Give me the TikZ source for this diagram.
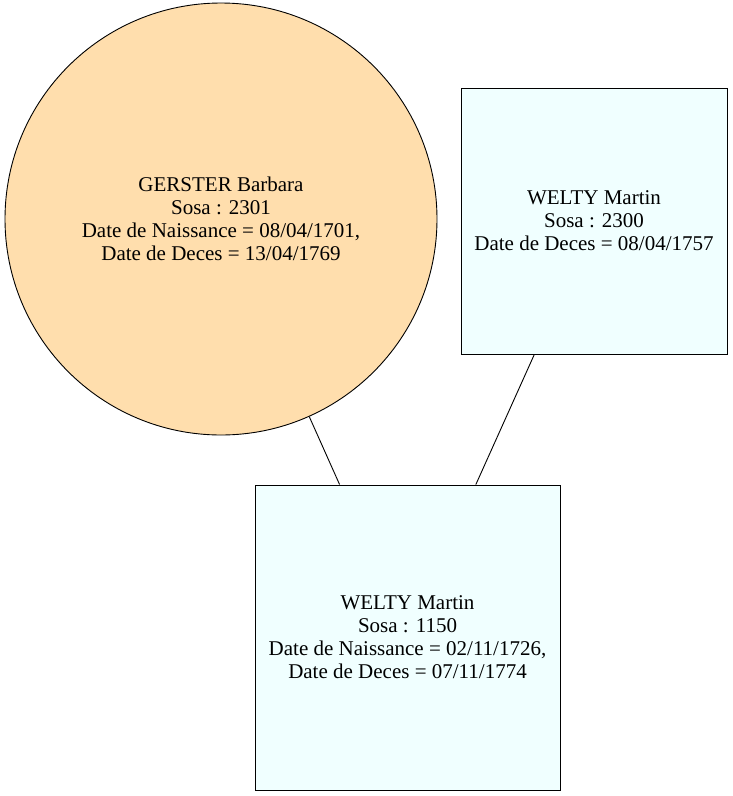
\documentclass[tikz,border=0pt]{standalone}
\usepackage{fontspec}
\setmainfont{Liberation Serif}
\definecolor{navajo}{HTML}{FFDEAD}
\definecolor{azurefill}{HTML}{F0FFFF}
\begin{document}
\begin{tikzpicture}[x=1pt,y=-1pt,
  person/.style={draw=black,line width=0.9pt,align=center,inner sep=0pt,
    font=\fontsize{21}{23}\selectfont},
  femme/.style={person,circle,fill=navajo,minimum size=432pt},
  homme/.style={person,rectangle,fill=azurefill},
  link/.style={draw=black,line width=0.9pt}]
\useasboundingbox (0,0) rectangle (733,796);
\node[femme] (gerster) at (221,219) {GERSTER Barbara\\Sosa : 2301\\Date de Naissance = 08/04/1701,\\Date de Deces = 13/04/1769};
\node[homme,minimum width=266pt,minimum height=266pt] (welty2300) at (594,221) {WELTY Martin\\Sosa : 2300\\Date de Deces = 08/04/1757};
\node[homme,minimum width=305pt,minimum height=305pt] (welty1150) at (407.5,637.5) {WELTY Martin\\Sosa : 1150\\Date de Naissance = 02/11/1726,\\Date de Deces = 07/11/1774};
\draw[link] (gerster) -- (welty1150);
\draw[link] (welty2300) -- (welty1150);
\end{tikzpicture}
\end{document}
